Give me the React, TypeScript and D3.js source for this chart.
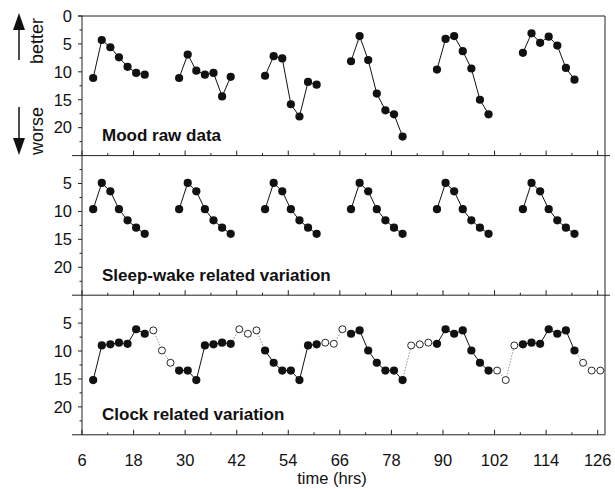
import * as d3 from "d3";

const WIDTH = 615;
const HEIGHT = 489;
const LEFT = 82;
const RIGHT = 605;
const PANEL_TOPS = [16, 155.6, 295.2];
const PANEL_H = 139.6;
const FONT = "'Liberation Sans', Arial, Helvetica, sans-serif";

const xTicks = [6, 18, 30, 42, 54, 66, 78, 90, 102, 114, 126];
const xMinorTicks = [12, 24, 36, 48, 60, 72, 84, 96, 108, 120];
const yTicksTop = [0, 5, 10, 15, 20];
const yTicksLower = [5, 10, 15, 20];
const yMinorTicks = [2.5, 7.5, 12.5, 17.5, 22.5];

// wake episodes of the 20 h days, sampled every 2 h
const wakeHours = [
  [8.6, 10.6, 12.6, 14.6, 16.6, 18.6, 20.6],
  [28.6, 30.6, 32.6, 34.6, 36.6, 38.6, 40.6],
  [48.6, 50.6, 52.6, 54.6, 56.6, 58.6, 60.6],
  [68.6, 70.6, 72.6, 74.6, 76.6, 78.6, 80.6],
  [88.6, 90.6, 92.6, 94.6, 96.6, 98.6, 100.6],
  [108.6, 110.6, 112.6, 114.6, 116.6, 118.6, 120.6],
];

const moodRaw = [
  [11.1, 4.3, 5.6, 7.4, 9.1, 10.2, 10.5],
  [11.1, 6.9, 9.8, 10.5, 10.2, 14.4, 10.9],
  [10.7, 7.2, 7.6, 15.8, 18.0, 11.8, 12.3],
  [8.1, 3.6, 7.9, 13.9, 16.9, 17.6, 21.6],
  [9.6, 4.1, 3.6, 6.3, 9.4, 15.0, 17.6],
  [6.6, 3.1, 4.8, 3.7, 5.3, 9.3, 11.4],
];

const sleepWake = [
  [9.6, 4.9, 6.4, 9.6, 11.6, 12.9, 14.0],
  [9.6, 4.9, 6.4, 9.6, 11.6, 12.9, 14.0],
  [9.6, 4.9, 6.4, 9.6, 11.6, 12.9, 14.0],
  [9.6, 4.9, 6.4, 9.6, 11.6, 12.9, 14.0],
  [9.6, 4.9, 6.4, 9.6, 11.6, 12.9, 14.0],
  [9.6, 4.9, 6.4, 9.6, 11.6, 12.9, 14.0],
];

const clockHours = [
  8.6, 10.6, 12.6, 14.6, 16.6, 18.6, 20.6, 22.6, 24.6, 26.6,
  28.6, 30.6, 32.6, 34.6, 36.6, 38.6, 40.6, 42.6, 44.6, 46.6,
  48.6, 50.6, 52.6, 54.6, 56.6, 58.6, 60.6, 62.6, 64.6, 66.6,
  68.6, 70.6, 72.6, 74.6, 76.6, 78.6, 80.6, 82.6, 84.6, 86.6,
  88.6, 90.6, 92.6, 94.6, 96.6, 98.6, 100.6, 102.6, 104.6, 106.6,
  108.6, 110.6, 112.6, 114.6, 116.6, 118.6, 120.6, 122.6, 124.6, 126.6,
];

const clockValues = [
  15.2, 9.0, 8.8, 8.5, 8.7, 6.1, 6.9, 6.3, 9.9, 12.1, 13.5, 13.5,
  15.2, 9.0, 8.8, 8.5, 8.7, 6.1, 6.9, 6.3, 9.9, 12.1, 13.5, 13.5,
  15.2, 9.0, 8.8, 8.5, 8.7, 6.1, 6.9, 6.3, 9.9, 12.1, 13.5, 13.5,
  15.2, 9.0, 8.8, 8.5, 8.7, 6.1, 6.9, 6.3, 9.9, 12.1, 13.5, 13.5,
  15.2, 9.0, 8.8, 8.5, 8.7, 6.1, 6.9, 6.3, 9.9, 12.1, 13.5, 13.5,
];

const panelTitles = ["Mood raw data", "Sleep-wake related variation", "Clock related variation"];

const xScale = d3.scaleLinear().domain([6, 127.7]).range([LEFT, RIGHT]);
const yScales = PANEL_TOPS.map((t) =>
  d3.scaleLinear().domain([0, 25]).range([t, t + PANEL_H])
);

const awakeSet = new Set(wakeHours.flat());

const Panel = ({ idx, children }: { idx: number; children?: any }) => {
  const y = yScales[idx];
  const bottom = PANEL_TOPS[idx] + PANEL_H;
  const ticks = idx === 0 ? yTicksTop : yTicksLower;
  return (
    <g>
      {/* bottom frame line with inward time ticks */}
      <line x1={72} x2={idx < 2 ? 610 : RIGHT} y1={bottom} y2={bottom} stroke="#222" />
      {xTicks.map((t) => (
        <line key={"M" + t} x1={xScale(t)} x2={xScale(t)} y1={bottom} y2={bottom - 5} stroke="#222" />
      ))}
      {xMinorTicks.map((t) => (
        <line key={"m" + t} x1={xScale(t)} x2={xScale(t)} y1={bottom} y2={bottom - 2.5} stroke="#222" />
      ))}
      {ticks.map((t) => (
        <g key={t}>
          <line x1={LEFT - 4} x2={LEFT} y1={y(t)} y2={y(t)} stroke="#222" />
          <text x={72} y={y(t)} dy="0.35em" textAnchor="end" fontSize={16.5} fontFamily={FONT} fill="#111">
            {t}
          </text>
        </g>
      ))}
      {yMinorTicks.map((t) => (
        <line key={t} x1={LEFT - 2.5} x2={LEFT} y1={y(t)} y2={y(t)} stroke="#222" />
      ))}
      <text x={102} y={y(22.4)} fontSize={17} fontWeight="bold" fontFamily={FONT} fill="#111">
        {panelTitles[idx]}
      </text>
      {children}
    </g>
  );
};

const Dot = ({ cx, cy, open }: { cx: number; cy: number; open?: boolean }) =>
  open ? (
    <circle cx={cx} cy={cy} r={3.5} fill="#fff" stroke="#111" strokeWidth={0.9} />
  ) : (
    <circle cx={cx} cy={cy} r={4.1} fill="#111" />
  );

const DayCurves = ({ idx, series }: { idx: number; series: number[][] }) => {
  const y = yScales[idx];
  const line = d3
    .line<[number, number]>()
    .x((d) => xScale(d[0]))
    .y((d) => y(d[1]));
  return (
    <g>
      {series.map((vals, k) => {
        const pts: [number, number][] = vals.map((v, j) => [wakeHours[k][j], v]);
        return (
          <g key={k}>
            <path d={line(pts) || ""} fill="none" stroke="#111" strokeWidth={1} />
            {pts.map((p, j) => (
              <Dot key={j} cx={xScale(p[0])} cy={y(p[1])} />
            ))}
          </g>
        );
      })}
    </g>
  );
};

const ClockCurve = () => {
  const y = yScales[2];
  const segs = clockHours.slice(1).map((h, i) => {
    const h0 = clockHours[i];
    const solid = awakeSet.has(h0) && awakeSet.has(h);
    return (
      <line
        key={i}
        x1={xScale(h0)}
        y1={y(clockValues[i])}
        x2={xScale(h)}
        y2={y(clockValues[i + 1])}
        stroke={solid ? "#111" : "#777"}
        strokeWidth={solid ? 1 : 0.8}
        strokeDasharray={solid ? undefined : "1.5,1.5"}
      />
    );
  });
  return (
    <g>
      {segs}
      {clockHours.map((h, i) => (
        <Dot key={i} cx={xScale(h)} cy={y(clockValues[i])} open={!awakeSet.has(h)} />
      ))}
    </g>
  );
};

export default function App() {
  const bottom = PANEL_TOPS[2] + PANEL_H;
  return (
    <svg
      width={WIDTH}
      height={HEIGHT}
      style={{ position: "absolute", left: 0, top: 0, background: "#fff" }}
    >
      <rect width={WIDTH} height={HEIGHT} fill="#fff" />
      {/* frame */}
      <line x1={78} x2={RIGHT} y1={PANEL_TOPS[0]} y2={PANEL_TOPS[0]} stroke="#222" />
      <line x1={LEFT} x2={LEFT} y1={PANEL_TOPS[0]} y2={bottom} stroke="#222" />
      <line x1={RIGHT} x2={RIGHT} y1={PANEL_TOPS[0]} y2={bottom} stroke="#222" />

      <Panel idx={0}>
        <DayCurves idx={0} series={moodRaw} />
      </Panel>
      <Panel idx={1}>
        <DayCurves idx={1} series={sleepWake} />
      </Panel>
      <Panel idx={2}>
        <ClockCurve />
      </Panel>

      {xTicks.map((t) => (
        <text key={t} x={xScale(t)} y={466} textAnchor="middle" fontSize={16.5} fontFamily={FONT} fill="#111">
          {t}
        </text>
      ))}
      <text x={332} y={484} textAnchor="middle" fontSize={16.5} fontFamily={FONT} fill="#111">
        time (hrs)
      </text>

      {/* better / worse arrows */}
      <line x1={19} x2={19} y1={60} y2={26} stroke="#111" strokeWidth={1.5} />
      <path d="M19,13 L13,30 L25,30 Z" fill="#111" />
      <line x1={19} x2={19} y1={107} y2={141} stroke="#111" strokeWidth={1.5} />
      <path d="M19,155 L13,138 L25,138 Z" fill="#111" />
      <text
        transform="translate(43,41) rotate(-90)"
        textAnchor="middle"
        fontSize={18}
        fontFamily={FONT}
        fill="#111"
      >
        better
      </text>
      <text
        transform="translate(43,131) rotate(-90)"
        textAnchor="middle"
        fontSize={18}
        fontFamily={FONT}
        fill="#111"
      >
        worse
      </text>
    </svg>
  );
}
